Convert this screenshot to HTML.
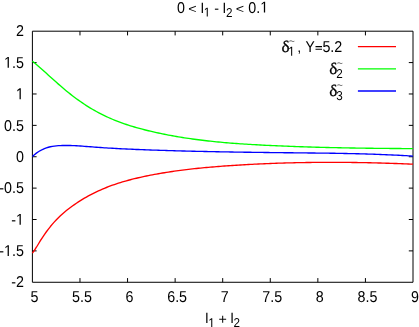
<!DOCTYPE html>
<html><head><meta charset="utf-8"><title>plot</title>
<style>
html,body{margin:0;padding:0;background:#fff;overflow:hidden}
svg{display:block;will-change:transform}
text{font-family:"Liberation Sans",sans-serif;fill:#000;text-rendering:geometricPrecision}
</style></head><body>
<svg width="419" height="327" viewBox="0 0 419 327">
<rect width="419" height="327" fill="#fff"/>
<g fill="none" stroke="#000" stroke-width="1">
<path d="M32.4,31.2H413.0V282.28H32.4Z"/>
<path d="M32.4,62.58h4.2M413.0,62.58h-4.2M32.4,93.97h4.2M413.0,93.97h-4.2M32.4,125.36h4.2M413.0,125.36h-4.2M32.4,156.74h4.2M413.0,156.74h-4.2M32.4,188.12h4.2M413.0,188.12h-4.2M32.4,219.51h4.2M413.0,219.51h-4.2M32.4,250.89h4.2M413.0,250.89h-4.2M79.97,282.28v-4.2M79.97,31.2v4.2M127.55,282.28v-4.2M127.55,31.2v4.2M175.13,282.28v-4.2M175.13,31.2v4.2M222.70,282.28v-4.2M222.70,31.2v4.2M270.27,282.28v-4.2M270.27,31.2v4.2M317.85,282.28v-4.2M317.85,31.2v4.2M365.43,282.28v-4.2M365.43,31.2v4.2"/>
</g>
<text transform="translate(15.95,36.40) scale(1.0,1.1)" font-size="14.3">2</text>
<path transform="translate(4.02,67.78) scale(0.00698,-0.00768)" d="M515,0V1237L197,1010V1180L530,1409H696V0Z"/>
<text transform="translate(11.97,67.78) scale(1.0,1.1)" font-size="14.3">.5</text>
<path transform="translate(15.95,99.17) scale(0.00698,-0.00768)" d="M515,0V1237L197,1010V1180L530,1409H696V0Z"/>
<text transform="translate(4.02,130.56) scale(1.0,1.1)" font-size="14.3">0.5</text>
<text transform="translate(15.95,161.94) scale(1.0,1.1)" font-size="14.3">0</text>
<text transform="translate(-0.74,193.32) scale(1.0,1.1)" font-size="14.3">-0.5</text>
<text transform="translate(11.19,224.71) scale(1.0,1.1)" font-size="14.3">-</text>
<path transform="translate(15.95,224.71) scale(0.00698,-0.00768)" d="M515,0V1237L197,1010V1180L530,1409H696V0Z"/>
<text transform="translate(-0.74,256.09) scale(1.0,1.1)" font-size="14.3">-</text>
<path transform="translate(4.02,256.09) scale(0.00698,-0.00768)" d="M515,0V1237L197,1010V1180L530,1409H696V0Z"/>
<text transform="translate(11.97,256.09) scale(1.0,1.1)" font-size="14.3">.5</text>
<text transform="translate(11.19,287.48) scale(1.0,1.1)" font-size="14.3">-2</text>
<text transform="translate(30.42,301.90) scale(1.0,1.1)" font-size="14.3">5</text>
<text transform="translate(72.04,301.90) scale(1.0,1.1)" font-size="14.3">5.5</text>
<text transform="translate(125.57,301.90) scale(1.0,1.1)" font-size="14.3">6</text>
<text transform="translate(167.19,301.90) scale(1.0,1.1)" font-size="14.3">6.5</text>
<text transform="translate(220.72,301.90) scale(1.0,1.1)" font-size="14.3">7</text>
<text transform="translate(262.34,301.90) scale(1.0,1.1)" font-size="14.3">7.5</text>
<text transform="translate(315.87,301.90) scale(1.0,1.1)" font-size="14.3">8</text>
<text transform="translate(357.49,301.90) scale(1.0,1.1)" font-size="14.3">8.5</text>
<text transform="translate(411.02,301.90) scale(1.0,1.1)" font-size="14.3">9</text>
<text transform="translate(177.00,12.50) scale(1.0,1.1)" font-size="14.3">0</text>
<text transform="translate(188.30,12.70) scale(1.0,0.87)" font-size="14.3">&lt;</text>
<text transform="translate(200.85,12.50) scale(1.0,0.98)" font-size="14.3">l</text>
<path transform="translate(203.80,16.50) scale(0.00571,-0.00628)" d="M515,0V1237L197,1010V1180L530,1409H696V0Z"/>
<text transform="translate(214.20,12.50) scale(1.0,1.0)" font-size="14.3">-</text>
<text transform="translate(222.85,12.50) scale(1.0,0.98)" font-size="14.3">l</text>
<text transform="translate(225.90,16.50) scale(1.0,1.1)" font-size="11.7">2</text>
<text transform="translate(235.80,12.70) scale(1.0,0.87)" font-size="14.3">&lt;</text>
<text transform="translate(248.35,12.50) scale(1.0,1.1)" font-size="14.3">0.</text>
<path transform="translate(260.28,12.50) scale(0.00698,-0.00768)" d="M515,0V1237L197,1010V1180L530,1409H696V0Z"/>
<text transform="translate(205.15,322.60) scale(1.0,0.98)" font-size="14.3">l</text>
<path transform="translate(208.30,327.20) scale(0.00571,-0.00628)" d="M515,0V1237L197,1010V1180L530,1409H696V0Z"/>
<text transform="translate(218.60,323.80) scale(1.0,1.0)" font-size="14.3">+</text>
<text transform="translate(230.40,322.60) scale(1.0,0.98)" font-size="14.3">l</text>
<text transform="translate(233.50,327.20) scale(1.0,1.1)" font-size="11.7">2</text>
<text transform="translate(281.40,51.70) scale(1.13,1.06)" font-size="15.2" style="font-family:'Liberation Serif',serif;stroke:#000;stroke-width:0.25">δ</text>
<text transform="translate(288.60,44.05) scale(1.0,0.8)" font-size="11" style="fill:#333">~</text>
<path transform="translate(288.20,55.70) scale(0.00571,-0.00628)" d="M515,0V1237L197,1010V1180L530,1409H696V0Z"/>
<text transform="translate(297.20,51.70) scale(1.0,1.0)" font-size="14.3">,</text>
<text transform="translate(305.60,51.70) scale(0.97,1.1)" font-size="14.3">Y</text>
<path d="M315.5,46.55h6.5M315.5,49.25h6.5" stroke="#000" stroke-width="1.15" fill="none"/>
<text transform="translate(322.40,51.70) scale(1.0,1.1)" font-size="14.3">5.2</text>
<text transform="translate(329.20,73.90) scale(1.13,1.06)" font-size="15.2" style="font-family:'Liberation Serif',serif;stroke:#000;stroke-width:0.25">δ</text>
<text transform="translate(336.50,66.25) scale(1.0,0.8)" font-size="11" style="fill:#333">~</text>
<text transform="translate(336.20,77.90) scale(1.0,1.1)" font-size="11.7">2</text>
<text transform="translate(329.20,96.10) scale(1.13,1.06)" font-size="15.2" style="font-family:'Liberation Serif',serif;stroke:#000;stroke-width:0.25">δ</text>
<text transform="translate(336.50,88.45) scale(1.0,0.8)" font-size="11" style="fill:#333">~</text>
<text transform="translate(336.20,100.10) scale(1.0,1.1)" font-size="11.7">3</text>
<g fill="none" stroke-width="1.35" stroke-linecap="butt" stroke-linejoin="round">
<path stroke="#f00" d="M357.9,46.6H396"/>
<path stroke="#0f0" d="M357.9,68.8H396"/>
<path stroke="#00f" d="M357.9,91.0H396"/>
<path stroke="#f00" d="M32.4,253.13 L34.4,250.32 L36.4,247.23 L38.4,243.98 L40.4,240.71 L42.4,237.55 L44.4,234.57 L46.4,231.74 L48.4,229.07 L50.4,226.55 L52.4,224.16 L54.4,221.90 L56.4,219.76 L58.4,217.73 L60.4,215.80 L62.4,213.97 L64.4,212.23 L66.4,210.57 L68.4,208.98 L70.4,207.46 L72.4,206.00 L74.4,204.59 L76.4,203.23 L78.4,201.90 L80.4,200.63 L82.4,199.39 L84.4,198.20 L86.4,197.05 L88.4,195.93 L90.4,194.86 L92.4,193.82 L94.4,192.82 L96.4,191.85 L98.4,190.92 L100.4,190.02 L102.4,189.15 L104.4,188.31 L106.4,187.50 L108.4,186.72 L110.4,185.97 L112.4,185.24 L114.4,184.54 L116.4,183.87 L118.4,183.21 L120.4,182.58 L122.4,181.97 L124.4,181.38 L126.4,180.81 L128.4,180.26 L130.4,179.73 L132.4,179.21 L134.4,178.71 L136.4,178.23 L138.4,177.76 L140.4,177.30 L142.4,176.86 L144.4,176.43 L146.4,176.02 L148.4,175.61 L150.4,175.21 L152.4,174.83 L154.4,174.45 L156.4,174.08 L158.4,173.73 L160.4,173.38 L162.4,173.04 L164.4,172.71 L166.4,172.39 L168.4,172.07 L170.4,171.77 L172.4,171.47 L174.4,171.18 L176.4,170.90 L178.4,170.63 L180.4,170.36 L182.4,170.10 L184.4,169.85 L186.4,169.61 L188.4,169.37 L190.4,169.14 L192.4,168.91 L194.4,168.69 L196.4,168.48 L198.4,168.28 L200.4,168.07 L202.4,167.88 L204.4,167.69 L206.4,167.50 L208.4,167.32 L210.4,167.15 L212.4,166.98 L214.4,166.81 L216.4,166.65 L218.4,166.49 L220.4,166.34 L222.4,166.19 L224.4,166.04 L226.4,165.90 L228.4,165.76 L230.4,165.62 L232.4,165.48 L234.4,165.35 L236.4,165.23 L238.4,165.10 L240.4,164.98 L242.4,164.86 L244.4,164.74 L246.4,164.63 L248.4,164.52 L250.4,164.41 L252.4,164.31 L254.4,164.20 L256.4,164.10 L258.4,164.01 L260.4,163.91 L262.4,163.82 L264.4,163.74 L266.4,163.65 L268.4,163.57 L270.4,163.49 L272.4,163.41 L274.4,163.34 L276.4,163.27 L278.4,163.20 L280.4,163.13 L282.4,163.07 L284.4,163.01 L286.4,162.95 L288.4,162.90 L290.4,162.85 L292.4,162.80 L294.4,162.75 L296.4,162.70 L298.4,162.66 L300.4,162.62 L302.4,162.59 L304.4,162.55 L306.4,162.52 L308.4,162.49 L310.4,162.46 L312.4,162.44 L314.4,162.42 L316.4,162.40 L318.4,162.38 L320.4,162.37 L322.4,162.36 L324.4,162.35 L326.4,162.34 L328.4,162.34 L330.4,162.34 L332.4,162.34 L334.4,162.34 L336.4,162.34 L338.4,162.35 L340.4,162.36 L342.4,162.37 L344.4,162.39 L346.4,162.40 L348.4,162.42 L350.4,162.45 L352.4,162.47 L354.4,162.49 L356.4,162.52 L358.4,162.55 L360.4,162.59 L362.4,162.62 L364.4,162.66 L366.4,162.70 L368.4,162.74 L370.4,162.78 L372.4,162.83 L374.4,162.88 L376.4,162.93 L378.4,162.98 L380.4,163.03 L382.4,163.09 L384.4,163.15 L386.4,163.21 L388.4,163.27 L390.4,163.33 L392.4,163.40 L394.4,163.47 L396.4,163.54 L398.4,163.61 L400.4,163.69 L402.4,163.76 L404.4,163.84 L406.4,163.92 L408.4,164.00 L410.4,164.09 L412.4,164.17 L413.0,164.20"/>
<path stroke="#0f0" d="M32.4,61.22 L34.4,62.85 L36.4,64.53 L38.4,66.24 L40.4,67.99 L42.4,69.75 L44.4,71.54 L46.4,73.34 L48.4,75.15 L50.4,76.96 L52.4,78.77 L54.4,80.57 L56.4,82.35 L58.4,84.12 L60.4,85.86 L62.4,87.57 L64.4,89.26 L66.4,90.91 L68.4,92.52 L70.4,94.11 L72.4,95.66 L74.4,97.18 L76.4,98.67 L78.4,100.12 L80.4,101.53 L82.4,102.91 L84.4,104.26 L86.4,105.56 L88.4,106.83 L90.4,108.06 L92.4,109.25 L94.4,110.41 L96.4,111.53 L98.4,112.61 L100.4,113.65 L102.4,114.67 L104.4,115.65 L106.4,116.59 L108.4,117.51 L110.4,118.40 L112.4,119.25 L114.4,120.08 L116.4,120.88 L118.4,121.65 L120.4,122.40 L122.4,123.13 L124.4,123.83 L126.4,124.50 L128.4,125.16 L130.4,125.79 L132.4,126.41 L134.4,127.00 L136.4,127.58 L138.4,128.14 L140.4,128.69 L142.4,129.22 L144.4,129.73 L146.4,130.23 L148.4,130.72 L150.4,131.20 L152.4,131.67 L154.4,132.13 L156.4,132.57 L158.4,133.01 L160.4,133.43 L162.4,133.85 L164.4,134.26 L166.4,134.65 L168.4,135.04 L170.4,135.41 L172.4,135.78 L174.4,136.14 L176.4,136.49 L178.4,136.83 L180.4,137.16 L182.4,137.49 L184.4,137.80 L186.4,138.11 L188.4,138.41 L190.4,138.70 L192.4,138.98 L194.4,139.25 L196.4,139.52 L198.4,139.78 L200.4,140.03 L202.4,140.28 L204.4,140.52 L206.4,140.75 L208.4,140.98 L210.4,141.20 L212.4,141.41 L214.4,141.61 L216.4,141.81 L218.4,142.01 L220.4,142.20 L222.4,142.38 L224.4,142.56 L226.4,142.73 L228.4,142.90 L230.4,143.06 L232.4,143.22 L234.4,143.37 L236.4,143.52 L238.4,143.67 L240.4,143.81 L242.4,143.94 L244.4,144.07 L246.4,144.20 L248.4,144.33 L250.4,144.45 L252.4,144.57 L254.4,144.68 L256.4,144.79 L258.4,144.90 L260.4,145.01 L262.4,145.11 L264.4,145.21 L266.4,145.31 L268.4,145.41 L270.4,145.50 L272.4,145.59 L274.4,145.68 L276.4,145.77 L278.4,145.86 L280.4,145.95 L282.4,146.03 L284.4,146.11 L286.4,146.19 L288.4,146.27 L290.4,146.35 L292.4,146.42 L294.4,146.50 L296.4,146.57 L298.4,146.64 L300.4,146.71 L302.4,146.78 L304.4,146.84 L306.4,146.91 L308.4,146.97 L310.4,147.03 L312.4,147.09 L314.4,147.15 L316.4,147.21 L318.4,147.26 L320.4,147.31 L322.4,147.37 L324.4,147.42 L326.4,147.47 L328.4,147.52 L330.4,147.56 L332.4,147.61 L334.4,147.66 L336.4,147.70 L338.4,147.74 L340.4,147.78 L342.4,147.82 L344.4,147.86 L346.4,147.90 L348.4,147.93 L350.4,147.97 L352.4,148.00 L354.4,148.04 L356.4,148.07 L358.4,148.10 L360.4,148.13 L362.4,148.16 L364.4,148.18 L366.4,148.21 L368.4,148.24 L370.4,148.26 L372.4,148.29 L374.4,148.31 L376.4,148.33 L378.4,148.35 L380.4,148.37 L382.4,148.39 L384.4,148.41 L386.4,148.43 L388.4,148.45 L390.4,148.46 L392.4,148.48 L394.4,148.49 L396.4,148.51 L398.4,148.52 L400.4,148.53 L402.4,148.55 L404.4,148.56 L406.4,148.57 L408.4,148.58 L410.4,148.59 L412.4,148.60 L413.0,148.60"/>
<path stroke="#00f" d="M32.4,156.49 L34.4,154.71 L36.4,153.13 L38.4,151.75 L40.4,150.54 L42.4,149.51 L44.4,148.62 L46.4,147.88 L48.4,147.26 L50.4,146.77 L52.4,146.37 L54.4,146.07 L56.4,145.84 L58.4,145.69 L60.4,145.58 L62.4,145.52 L64.4,145.48 L66.4,145.48 L68.4,145.50 L70.4,145.54 L72.4,145.61 L74.4,145.69 L76.4,145.79 L78.4,145.91 L80.4,146.04 L82.4,146.17 L84.4,146.32 L86.4,146.47 L88.4,146.63 L90.4,146.79 L92.4,146.95 L94.4,147.10 L96.4,147.25 L98.4,147.39 L100.4,147.53 L102.4,147.67 L104.4,147.80 L106.4,147.93 L108.4,148.06 L110.4,148.18 L112.4,148.29 L114.4,148.41 L116.4,148.52 L118.4,148.62 L120.4,148.73 L122.4,148.83 L124.4,148.92 L126.4,149.02 L128.4,149.11 L130.4,149.20 L132.4,149.29 L134.4,149.37 L136.4,149.46 L138.4,149.54 L140.4,149.62 L142.4,149.69 L144.4,149.77 L146.4,149.84 L148.4,149.91 L150.4,149.98 L152.4,150.05 L154.4,150.12 L156.4,150.19 L158.4,150.26 L160.4,150.32 L162.4,150.39 L164.4,150.45 L166.4,150.51 L168.4,150.57 L170.4,150.63 L172.4,150.69 L174.4,150.75 L176.4,150.80 L178.4,150.86 L180.4,150.91 L182.4,150.97 L184.4,151.02 L186.4,151.07 L188.4,151.12 L190.4,151.17 L192.4,151.22 L194.4,151.27 L196.4,151.31 L198.4,151.36 L200.4,151.41 L202.4,151.45 L204.4,151.49 L206.4,151.54 L208.4,151.58 L210.4,151.62 L212.4,151.66 L214.4,151.70 L216.4,151.74 L218.4,151.78 L220.4,151.81 L222.4,151.85 L224.4,151.89 L226.4,151.92 L228.4,151.95 L230.4,151.99 L232.4,152.02 L234.4,152.05 L236.4,152.09 L238.4,152.12 L240.4,152.15 L242.4,152.18 L244.4,152.21 L246.4,152.24 L248.4,152.27 L250.4,152.29 L252.4,152.32 L254.4,152.35 L256.4,152.38 L258.4,152.40 L260.4,152.43 L262.4,152.45 L264.4,152.48 L266.4,152.50 L268.4,152.53 L270.4,152.55 L272.4,152.57 L274.4,152.60 L276.4,152.62 L278.4,152.64 L280.4,152.66 L282.4,152.69 L284.4,152.71 L286.4,152.73 L288.4,152.75 L290.4,152.77 L292.4,152.79 L294.4,152.81 L296.4,152.83 L298.4,152.85 L300.4,152.87 L302.4,152.89 L304.4,152.91 L306.4,152.94 L308.4,152.96 L310.4,152.98 L312.4,153.00 L314.4,153.02 L316.4,153.05 L318.4,153.07 L320.4,153.10 L322.4,153.12 L324.4,153.15 L326.4,153.18 L328.4,153.20 L330.4,153.23 L332.4,153.26 L334.4,153.29 L336.4,153.33 L338.4,153.36 L340.4,153.40 L342.4,153.43 L344.4,153.47 L346.4,153.51 L348.4,153.55 L350.4,153.59 L352.4,153.64 L354.4,153.68 L356.4,153.73 L358.4,153.78 L360.4,153.83 L362.4,153.89 L364.4,153.94 L366.4,154.00 L368.4,154.06 L370.4,154.12 L372.4,154.19 L374.4,154.26 L376.4,154.33 L378.4,154.40 L380.4,154.47 L382.4,154.55 L384.4,154.63 L386.4,154.71 L388.4,154.80 L390.4,154.88 L392.4,154.98 L394.4,155.07 L396.4,155.17 L398.4,155.27 L400.4,155.37 L402.4,155.48 L404.4,155.59 L406.4,155.70 L408.4,155.82 L410.4,155.94 L412.4,156.06 L413.0,156.10"/>
</g>
</svg>
</body></html>
